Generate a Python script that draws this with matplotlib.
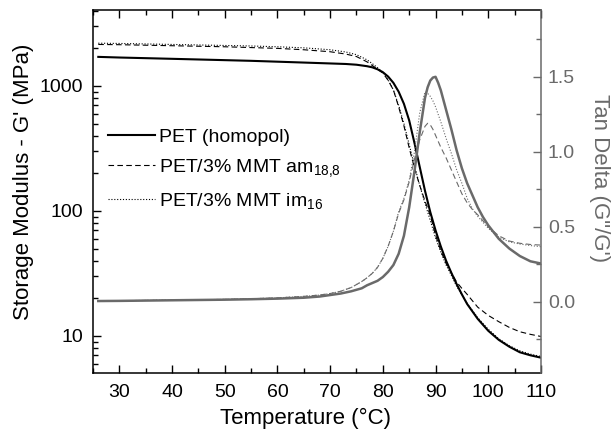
import matplotlib
matplotlib.use('Agg')
import matplotlib.pyplot as plt
from matplotlib.ticker import MultipleLocator, LogLocator, NullFormatter, FixedLocator

plt.rcParams['font.family'] = ['Liberation Sans', 'DejaVu Sans']
plt.rcParams['mathtext.default'] = 'regular'

GREY = '#6a6a6a'

# storage modulus G' (MPa) vs temperature
temp_g = [26, 30, 35, 40, 45, 50, 55, 60, 65, 70, 73, 75, 77, 78, 79, 80, 81, 82,
          83, 84, 85, 86, 87, 88, 89, 90, 91, 92, 93, 94, 95, 96, 98, 100, 102,
          104, 106, 108, 110]
g_homopol = [1710, 1690, 1670, 1650, 1630, 1610, 1590, 1565, 1540, 1515, 1500,
             1480, 1440, 1410, 1360, 1290, 1190, 1060, 900, 720, 530, 350, 225,
             145, 98, 70, 52, 40, 32, 26, 21.5, 18, 13.7, 11, 9.3, 8.2, 7.4, 7.0, 6.7]
g_am188 = [2150, 2140, 2120, 2100, 2080, 2060, 2030, 2000, 1950, 1880, 1800,
           1720, 1560, 1460, 1360, 1270, 1110, 930, 680, 480, 320, 220, 160,
           120, 92, 64, 48, 38, 32, 27, 24, 21.5, 17, 14.6, 13, 11.7, 10.8, 10.3, 9.9]
g_im16 = [2200, 2190, 2170, 2150, 2130, 2110, 2090, 2060, 2020, 1950, 1870,
          1780, 1620, 1510, 1400, 1290, 1120, 930, 700, 500, 340, 230, 160,
          115, 84, 61, 47, 37, 30.5, 25, 21.3, 18.2, 14, 11.3, 9.5, 8.35, 7.6, 7.15, 6.85]

# tan delta (G''/G') vs temperature
temp_tan = [26, 30, 35, 40, 45, 50, 55, 60, 65, 68, 70, 72, 74, 76, 77, 78, 79,
            80, 81, 82, 83, 84, 85, 86, 87, 88, 88.5, 89, 89.5, 90, 90.5, 91, 92,
            93, 94, 95, 96, 97, 98, 99, 100, 102, 104, 106, 108, 110]
tan_homopol = [0.005, 0.006, 0.008, 0.010, 0.012, 0.014, 0.017, 0.021, 0.027,
               0.035, 0.045, 0.055, 0.07, 0.09, 0.11, 0.125, 0.14, 0.165, 0.2,
               0.245, 0.32, 0.44, 0.63, 0.87, 1.13, 1.36, 1.43, 1.475, 1.495, 1.50,
               1.46, 1.41, 1.28, 1.15, 1.01, 0.89, 0.79, 0.71, 0.63, 0.565, 0.51,
               0.42, 0.355, 0.305, 0.27, 0.255]
tan_am188 = [0.005, 0.007, 0.009, 0.011, 0.013, 0.016, 0.02, 0.026, 0.036, 0.045,
             0.055, 0.07, 0.095, 0.135, 0.16, 0.19, 0.23, 0.29, 0.37, 0.47, 0.59,
             0.68, 0.8, 0.95, 1.08, 1.17, 1.19, 1.18, 1.15, 1.11, 1.07, 1.03, 0.96,
             0.88, 0.80, 0.72, 0.66, 0.615, 0.58, 0.54, 0.50, 0.44, 0.405, 0.39,
             0.382, 0.378]
tan_im16 = [0.005, 0.007, 0.009, 0.011, 0.013, 0.016, 0.02, 0.026, 0.036, 0.045,
            0.055, 0.07, 0.095, 0.135, 0.16, 0.19, 0.23, 0.29, 0.37, 0.47, 0.6,
            0.69, 0.81, 1.0, 1.26, 1.40, 1.39, 1.37, 1.34, 1.30, 1.25, 1.20, 1.09,
            0.99, 0.88, 0.79, 0.69, 0.62, 0.57, 0.53, 0.49, 0.43, 0.40, 0.385,
            0.375, 0.367]

labels = ['PET (homopol)', 'PET/3% MMT am$_{18{,}8}$', 'PET/3% MMT im$_{16}$']

fig = plt.figure(figsize=(6.14, 4.29), dpi=100)
ax = fig.add_axes([0.1515, 0.1305, 0.7295, 0.846])
ax2 = ax.twinx()

# G' curves (left, log)
ax.plot(temp_g, g_homopol, color='black', lw=1.5, ls='-', label=labels[0])
ax.plot(temp_g, g_am188, color='black', lw=0.8, ls=(0, (5, 3)), label=labels[1])
ax.plot(temp_g, g_im16, color='black', lw=0.8, ls=(0, (1, 1.6)), label=labels[2])
ax.set_yscale('log')
ax.set_ylim(5.05, 4050)
ax.set_xlim(25, 110)

# tan delta curves (right)
ax2.plot(temp_tan, tan_homopol, color=GREY, lw=1.8, ls='-')
ax2.plot(temp_tan, tan_am188, color=GREY, lw=0.8, ls=(0, (5, 3)))
ax2.plot(temp_tan, tan_im16, color=GREY, lw=0.8, ls=(0, (1, 1.6)))
ax2.set_ylim(-0.475, 1.945)

# ticks
ax.xaxis.set_major_locator(MultipleLocator(10))
ax.xaxis.set_minor_locator(MultipleLocator(5))
ax.yaxis.set_major_locator(FixedLocator([10, 100, 1000]))
ax.set_yticklabels(['10', '100', '1000'])
ax.yaxis.set_minor_locator(LogLocator(base=10, subs=range(2, 10)))
ax.yaxis.set_minor_formatter(NullFormatter())
ax.tick_params(which='both', direction='in', top=True, right=False, width=1.0,
               labelsize=14)
ax.tick_params(which='major', length=6)
ax.tick_params(which='minor', length=3.5)
ax.tick_params(axis='y', pad=7)
ax.tick_params(axis='x', pad=8)

ax2.yaxis.set_major_locator(FixedLocator([0.0, 0.5, 1.0, 1.5]))
ax2.set_yticklabels(['0.0', '0.5', '1.0', '1.5'])
ax2.yaxis.set_minor_locator(MultipleLocator(0.25))
ax2.tick_params(which='both', direction='in', colors=GREY, width=1.0,
                labelsize=14, pad=5)
ax2.tick_params(which='major', length=6)
ax2.tick_params(which='minor', length=3.5)

for s in ['left', 'top', 'bottom']:
    ax.spines[s].set_linewidth(1.1)
    ax2.spines[s].set_visible(False)
ax.spines['right'].set_visible(False)
ax2.spines['right'].set_color(GREY)
ax2.spines['right'].set_linewidth(1.1)

ax.set_xlabel('Temperature (°C)', fontsize=16)
ax.xaxis.set_label_coords(0.475, -0.097)
ax.set_ylabel("Storage Modulus - G' (MPa)", fontsize=16)
ax.yaxis.set_label_coords(-0.132, 0.526)
ax2.set_ylabel('Tan Delta (G"/G\')', fontsize=16, color=GREY, rotation=270,
               va='bottom')
ax2.yaxis.set_label_coords(1.107, 0.537)

ax2.legend(*ax.get_legend_handles_labels(), loc='upper left',
           bbox_to_anchor=(0.0335, 0.675), frameon=False, fontsize=14,
           handlelength=2.4, handletextpad=0.2, labelspacing=0.6,
           borderpad=0, borderaxespad=0)

fig.savefig('out.png', dpi=100)
